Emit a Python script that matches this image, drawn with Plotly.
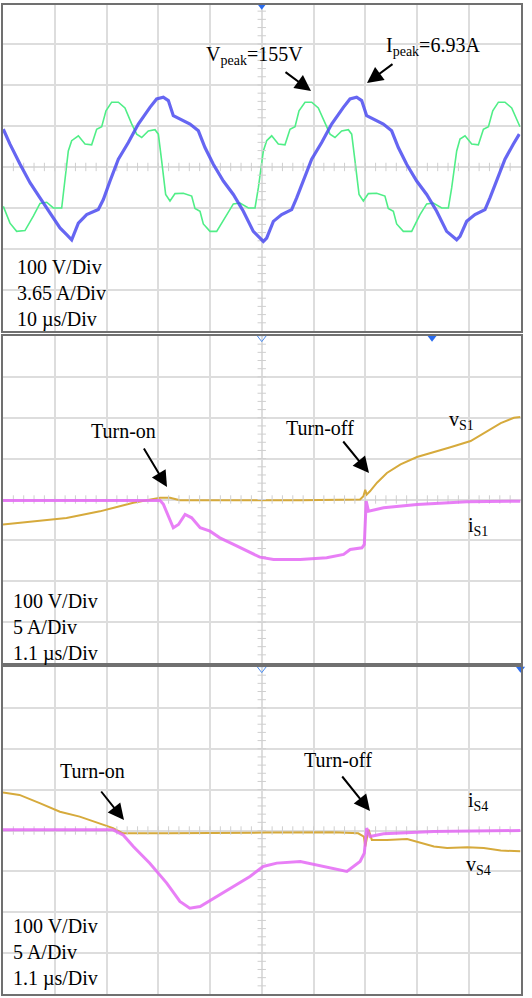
import plotly.graph_objects as go

W, H = 532, 998

# ---------------- Panel 1 : 10 us/div, 100 V/div, 3.65 A/div ----------------
p1_v_t = [0.06, 1.35, 2.64, 4.25, 5.86, 7.15, 8.44, 9.73, 11.34, 11.79, 12.62, 13.27, 14.56, 15.85,
          17.13, 18.1, 19.07, 19.9, 21.0, 22.29, 23.57, 24.86, 25.83, 26.8, 28.08, 29.37, 30.02,
          30.66, 31.43, 32.27, 33.24, 34.85, 36.46, 37.1, 38.07, 38.71, 40.0, 41.29, 43.22, 44.51,
          45.8, 47.41, 48.7, 49.34, 50.31, 50.95, 51.92, 53.2, 54.49, 55.46, 56.43, 57.2, 58.36,
          59.65, 60.93, 62.22, 63.19, 64.15, 65.44, 66.73, 67.38, 68.02, 68.8, 69.63, 70.6, 72.2,
          73.8, 74.45, 75.43, 76.07, 77.36, 78.97, 80.58, 81.87, 83.16, 84.77, 86.06, 86.7, 87.67,
          88.31, 89.28, 90.57, 91.86, 92.83, 93.8, 94.64, 95.73, 97.0, 98.3, 99.9]
p1_v = [-96, -137, -157, -155, -120, -89, -86, -100, -100, -51, 39, 64, 76, 56,
        54, 92, 98, 137, 158, 158, 144, 105, 80, 72, 88, 91, 80,
        15, -67, -83, -65, -64, -71, -101, -108, -139, -157, -157, -116, -90,
        -88, -100, -100, -51, 39, 64, 76, 56, 54, 92, 98, 137, 158,
        158, 144, 105, 80, 72, 88, 91, 80, 15, -67, -83, -65, -64,
        -71, -101, -108, -139, -157, -157, -116, -90, -88, -100, -100, -51, 39,
        68, 76, 56, 54, 92, 98, 137, 158, 158, 144, 98]

p1_i_t = [0.06, 1.35, 3.3, 5.22, 7.15, 9.08, 11.01, 12.3, 13.27, 14.56, 16.17, 18.42, 19.39, 20.68,
          22.29, 24.22, 26.15, 28.4, 29.69, 30.98, 31.95, 32.91, 34.2, 36.14, 37.75, 39.03, 40.64,
          42.58, 44.51, 46.44, 48.37, 50.31, 50.95, 52.24, 53.85, 55.78, 56.75, 58.04, 59.65,
          61.58, 63.51, 65.77, 67.05, 68.34, 69.31, 70.27, 71.56, 73.49, 75.1, 76.39, 78.0, 79.94,
          81.87, 83.8, 85.73, 87.67, 88.31, 89.6, 91.2, 93.14, 94.1, 95.39, 97.0, 98.6, 99.77]
p1_i = [3.37, 2.03, 0.24, -1.40, -2.75, -4.09, -5.43, -6.03, -6.48, -4.99, -4.24, -3.79, -2.90, -1.25,
        0.69, 2.18, 3.82, 5.31, 6.06, 6.21, 5.91, 4.57, 4.27, 3.82, 3.22, 1.73, 0.24,
        -1.25, -2.45, -3.94, -5.73, -6.63, -6.33, -4.84, -4.24, -3.79, -2.75, -1.25, 0.69,
        2.18, 3.82, 5.31, 6.06, 6.21, 5.91, 4.57, 4.27, 3.82, 3.22, 1.73, 0.24, -1.25,
        -2.45, -3.94, -5.73, -6.48, -6.18, -4.84, -4.24, -3.79, -2.75, -1.25, 0.69, 2.03, 2.93]

# ---------------- Panel 2 : 1.1 us/div, 100 V/div, 5 A/div ----------------
p2_v_t = [0.0, 0.64, 1.35, 2.06, 2.77, 3.34, 3.55, 3.76, 4.9, 6.32, 7.59, 7.66, 7.70, 7.73, 7.8,
          7.95, 8.16, 8.45, 8.8, 9.16, 9.51, 9.94, 10.22, 10.58, 10.86, 11.0]
p2_v = [-61, -53, -45, -29, -8, 4, 4, -2, -2, -2, 0, 8, 24, 12, 20,
        41, 65, 86, 104, 117, 128, 143, 163, 187, 200, 202]
p2_i_t = [0.0, 3.34, 3.41, 3.51, 3.62, 3.73, 3.87, 4.01, 4.19, 4.40, 4.61, 4.9, 5.18, 5.46, 5.75,
          6.32, 6.88, 7.24, 7.38, 7.63, 7.68, 7.72, 7.77, 8.09, 8.8, 9.86, 11.0]
p2_i = [-0.12, -0.12, -0.6, -2.04, -3.46, -3.06, -1.83, -2.24, -3.46, -3.87, -4.69, -5.5, -6.32,
        -7.05, -7.33, -7.33, -7.13, -6.72, -6.11, -5.91, -5.5, -0.2, -1.43, -1.02, -0.61, -0.29, -0.2]

# ---------------- Panel 3 : 1.1 us/div, 100 V/div, 5 A/div ----------------
p3_v_t = [0.0, 0.35, 0.78, 1.21, 1.63, 2.06, 2.34, 2.55, 3.48, 5.6, 7.03, 7.55, 7.67, 7.7, 7.77,
          7.84, 8.16, 8.59, 8.87, 9.16, 9.44, 9.87, 10.22, 10.58, 11.0]
p3_v = [93, 87, 67, 46, 34, 18, 6, -7, -7, -5, -4, -7, -15, -39, 2,
        -23, -23, -21, -29, -39, -43, -41, -43, -49, -51]
p3_i_t = [0.0, 2.06, 2.34, 2.55, 2.77, 3.12, 3.48, 3.76, 3.97, 4.19, 4.54, 4.9, 5.25, 5.53, 5.82,
          6.32, 6.67, 7.03, 7.31, 7.59, 7.68, 7.73, 7.8, 8.09, 9.16, 11.0]
p3_i = [0.08, 0.16, 0.08, -0.53, -1.96, -4.0, -6.44, -8.68, -9.5, -9.29, -8.07, -6.85, -5.62,
        -4.4, -3.99, -3.79, -4.2, -4.6, -5.01, -3.79, -2.77, 0.29, -0.73, -0.41, -0.12, 0.0]

# scale labels
scale1 = ["100 V/Div", "3.65 A/Div", "10 \u00b5s/Div"]
scale2 = ["100 V/Div", "5 A/Div", "1.1 \u00b5s/Div"]
scale3 = ["100 V/Div", "5 A/Div", "1.1 \u00b5s/Div"]

BLUE = "rgba(75,75,240,0.85)"
GREEN = "rgb(80,238,135)"
ORANGE = "rgb(214,170,60)"
MAGENTA = "rgba(228,105,245,0.85)"
FONT = "Liberation Serif, Times New Roman, serif"


def pdom_y(top, bottom):
    return [1 - bottom / H, 1 - top / H]


XDOM = [3 / W, 520.5 / W]
GRID = dict(showgrid=True, gridcolor="#dddddd", gridwidth=1.5, showline=True, mirror=True,
            linecolor="#707070", linewidth=1.5, ticks="", showticklabels=False,
            zeroline=False, fixedrange=True)

fig = go.Figure()

# panel 1
fig.add_trace(go.Scatter(x=p1_i_t, y=p1_i, mode="lines", line=dict(color=BLUE, width=3.2),
                         xaxis="x", yaxis="y4", hoverinfo="skip"))
fig.add_trace(go.Scatter(x=p1_v_t, y=p1_v, mode="lines", line=dict(color=GREEN, width=1.6),
                         xaxis="x", yaxis="y", hoverinfo="skip"))
# panel 2
fig.add_trace(go.Scatter(x=p2_i_t, y=p2_i, mode="lines", line=dict(color=MAGENTA, width=3),
                         xaxis="x2", yaxis="y5", hoverinfo="skip"))
fig.add_trace(go.Scatter(x=p2_v_t, y=p2_v, mode="lines", line=dict(color=ORANGE, width=2),
                         xaxis="x2", yaxis="y2", hoverinfo="skip"))
# panel 3
fig.add_trace(go.Scatter(x=p3_v_t, y=p3_v, mode="lines", line=dict(color=ORANGE, width=2),
                         xaxis="x3", yaxis="y3", hoverinfo="skip"))
fig.add_trace(go.Scatter(x=p3_i_t, y=p3_i, mode="lines", line=dict(color=MAGENTA, width=3),
                         xaxis="x3", yaxis="y6", hoverinfo="skip"))

# centre cross-hair tick marks (oscilloscope style)
panels = [("x", "y", 100.0, 400.0), ("x2", "y2", 11.0, 400.0), ("x3", "y3", 11.0, 400.0)]
for xa, ya, xspan, yspan in panels:
    nx = 50
    ny = 40
    xs = [xspan * k / nx for k in range(1, nx)]
    ys = [-yspan + 2 * yspan * k / ny for k in range(1, ny)]
    fig.add_trace(go.Scatter(x=xs, y=[0] * len(xs), mode="markers", xaxis=xa, yaxis=ya,
                             marker=dict(symbol="line-ns", size=6, line=dict(color="#cfcfcf", width=1)),
                             hoverinfo="skip"))
    fig.add_trace(go.Scatter(x=[xspan / 2] * len(ys), y=ys, mode="markers", xaxis=xa, yaxis=ya,
                             marker=dict(symbol="line-ew", size=6, line=dict(color="#cfcfcf", width=1)),
                             hoverinfo="skip"))

# trigger markers
fig.add_trace(go.Scatter(x=[50], y=[393], mode="markers", xaxis="x", yaxis="y", cliponaxis=False,
                         marker=dict(symbol="triangle-down", size=8, color="#2a6cf0"), hoverinfo="skip"))
fig.add_trace(go.Scatter(x=[5.5], y=[396], mode="markers", xaxis="x2", yaxis="y2", cliponaxis=False,
                         marker=dict(symbol="triangle-down-open", size=8, color="#4a8cf0"), hoverinfo="skip"))
fig.add_trace(go.Scatter(x=[9.12], y=[396], mode="markers", xaxis="x2", yaxis="y2", cliponaxis=False,
                         marker=dict(symbol="triangle-down", size=8, color="#2a6cf0"), hoverinfo="skip"))
fig.add_trace(go.Scatter(x=[5.5], y=[396], mode="markers", xaxis="x3", yaxis="y3", cliponaxis=False,
                         marker=dict(symbol="triangle-down-open", size=8, color="#4a8cf0"), hoverinfo="skip"))
fig.add_trace(go.Scatter(x=[11.0], y=[396], mode="markers", xaxis="x3", yaxis="y3", cliponaxis=False,
                         marker=dict(symbol="triangle-down", size=8, color="#2a6cf0"), hoverinfo="skip"))

layout = dict(
    width=W, height=H, margin=dict(l=0, r=0, t=0, b=0), showlegend=False,
    paper_bgcolor="white", plot_bgcolor="white",
    font=dict(family=FONT, size=20, color="black"),
    xaxis=dict(domain=XDOM, range=[0, 100], dtick=10, tick0=0, anchor="y", **GRID),
    yaxis=dict(domain=pdom_y(5, 331), range=[-400, 395], dtick=100, tick0=0, anchor="x", **GRID),
    yaxis4=dict(overlaying="y", range=[-14.6, 14.42], visible=False, fixedrange=True, anchor="x"),
    xaxis2=dict(domain=XDOM, range=[0, 11], dtick=1.1, tick0=0, anchor="y2", **GRID),
    yaxis2=dict(domain=pdom_y(336, 663), range=[-400, 400], dtick=100, tick0=0, anchor="x2", **GRID),
    yaxis5=dict(overlaying="y2", range=[-20, 20], visible=False, fixedrange=True, anchor="x2"),
    xaxis3=dict(domain=XDOM, range=[0, 11], dtick=1.1, tick0=0, anchor="y3", **GRID),
    yaxis3=dict(domain=pdom_y(667, 994), range=[-400, 400], dtick=100, tick0=0, anchor="x3", **GRID),
    yaxis6=dict(overlaying="y3", range=[-20, 20], visible=False, fixedrange=True, anchor="x3"),
)
fig.update_layout(**layout)


def P(x, y):
    return x / W, 1 - y / H


def text(x, y, s, xanchor="left", size=20):
    px_, py_ = P(x, y)
    fig.add_annotation(x=px_, y=py_, xref="paper", yref="paper", text=s, showarrow=False,
                       xanchor=xanchor, yanchor="middle", align="left",
                       font=dict(family=FONT, size=size, color="black"))


def arrow(hx, hy, tx, ty):
    px_, py_ = P(hx, hy)
    fig.add_annotation(x=px_, y=py_, xref="paper", yref="paper", text="", showarrow=True,
                       ax=tx - hx, ay=ty - hy, axref="pixel", ayref="pixel",
                       arrowhead=2, arrowsize=1.6, arrowwidth=2, arrowcolor="black")


# panel 1 annotations
text(204, 55, "V<sub>peak</sub>=155V")
text(384, 46, "I<sub>peak</sub>=6.93A")
arrow(311, 91, 284, 71)
arrow(367, 83, 394, 63)
text(15, 293, "<br>".join(scale1))

# panel 2 annotations
text(89, 431, "Turn-on")
text(284, 428, "Turn-off")
arrow(167, 487, 143, 447)
arrow(369, 473, 342, 440)
text(447, 420, "v<sub>S1</sub>")
text(466, 526, "i<sub>S1</sub>")
text(11, 627, "<br>".join(scale2))

# panel 3 annotations
text(58, 771, "Turn-on")
text(302, 760, "Turn-off")
arrow(124, 820, 100, 790)
arrow(370, 811, 341, 775)
text(466, 801, "i<sub>S4</sub>")
text(464, 865, "v<sub>S4</sub>")
text(11, 952, "<br>".join(scale3))

fig.write_html("out.html")
